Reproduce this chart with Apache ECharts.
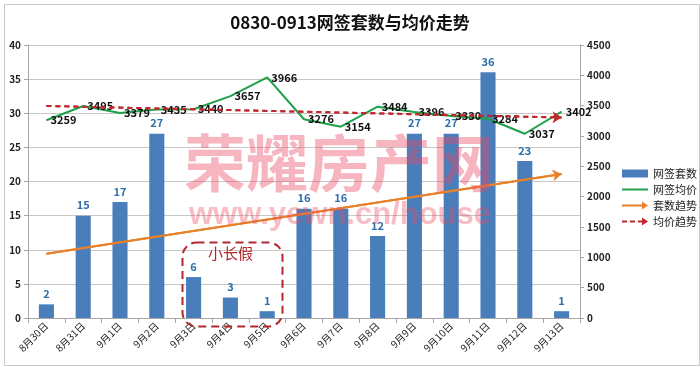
<!DOCTYPE html>
<html><head><meta charset="utf-8">
<script src="https://cdn.jsdelivr.net/npm/echarts@6/dist/echarts.min.js"></script>
<style>html,body{margin:0;padding:0;background:#fff}#c{width:700px;height:367px}</style>
</head><body><div id="c"></div>
<script>
const categories = ['8月30日','8月31日','9月1日','9月2日','9月3日','9月4日','9月5日','9月6日','9月7日','9月8日','9月9日','9月10日','9月11日','9月12日','9月13日'];
const counts = [2,15,17,27,6,3,1,16,16,12,27,27,36,23,1];
const prices = [3259,3495,3379,3435,3440,3657,3966,3276,3154,3484,3396,3330,3284,3037,3402];
const countTrend = [9.4, 21.1];
const priceTrend = [3495, 3305];
const leftTicks = {min:0, max:40, interval:5};
const rightTicks = {min:0, max:4500, interval:500};

const n = categories.length;
const ends = arr => categories.map((c,i)=> i===0 ? arr[0] : (i===n-1 ? arr[1] : null));
const font = '"Noto Sans CJK SC", "Noto Sans", sans-serif';

const chart = echarts.init(document.getElementById('c'));
chart.setOption({
  animation:false,
  textStyle:{fontFamily:font},
  title:{text:'0830-0913网签套数与均价走势', left:'center', top:9,
    textStyle:{fontSize:17, fontWeight:'bold', color:'#111', fontFamily:font}},
  grid:{left:28, right:120, top:45, bottom:49},
  legend:{orient:'vertical', left:617, top:163, itemGap:5, itemWidth:26, itemHeight:8,
    textStyle:{fontSize:11, color:'#222'},
    data:[
      {name:'网签套数', icon:'rect'},
      {name:'网签均价', icon:'path://M0,3H26V5H0Z'},
      {name:'套数趋势', icon:'path://M0,3H20V0L26,4L20,8V5H0Z'},
      {name:'均价趋势', icon:'path://M0,3H5V5H0Z M8,3H13V5H8Z M16,3H20V0L26,4L20,8V5H16Z'}
    ]},
  xAxis:{type:'category', data:categories,
    axisLine:{lineStyle:{color:'#A6A6A6'}},
    axisTick:{show:true, length:5, lineStyle:{color:'#A6A6A6'}},
    axisLabel:{rotate:45, fontSize:10, color:'#222', margin:6, interval:0}},
  yAxis:[
    {type:'value', min:leftTicks.min, max:leftTicks.max, interval:leftTicks.interval,
      axisLine:{show:true, lineStyle:{color:'#A6A6A6'}},
      axisTick:{show:true, length:4, lineStyle:{color:'#A6A6A6'}},
      splitLine:{lineStyle:{color:'#C8C8C8'}},
      axisLabel:{fontSize:10, color:'#222', fontWeight:'bold', margin:7}},
    {type:'value', min:rightTicks.min, max:rightTicks.max, interval:rightTicks.interval,
      position:'right',
      axisLine:{show:true, lineStyle:{color:'#A6A6A6'}},
      axisTick:{show:true, length:4, lineStyle:{color:'#A6A6A6'}},
      splitLine:{show:false},
      axisLabel:{fontSize:10, color:'#222', fontWeight:'bold', margin:7, formatter: v => String(v)}}
  ],
  series:[
    {name:'网签套数', type:'bar', data:counts, barWidth:'41%', yAxisIndex:0,
      itemStyle:{color:'#4A7EBB'},
      label:{show:true, position:'top', fontSize:11, fontWeight:'bold', color:'#2F6EA9', distance:5}},
    {name:'网签均价', type:'line', data:prices, yAxisIndex:1, symbol:'circle', symbolSize:0.1, showSymbol:true,
      lineStyle:{color:'#1FA049', width:2}, itemStyle:{color:'#1FA049'},
      label:{show:true, position:'right', fontSize:11, fontWeight:'bold', color:'#111', distance:4}},
    {name:'套数趋势', type:'line', data:ends(countTrend), yAxisIndex:0, connectNulls:true, symbol:'none',
      lineStyle:{color:'#E8822A', width:2}, itemStyle:{color:'#E8822A'}, z:5,
      markLine:{silent:true, symbol:['none','arrow'], symbolSize:[9,9], label:{show:false},
        lineStyle:{color:'#E8822A', width:2, type:'solid'},
        data:[[{coord:[categories[0], countTrend[0]]},{coord:[categories[n-1], countTrend[1]]}]]}},
    {name:'均价趋势', type:'line', data:ends(priceTrend), yAxisIndex:1, connectNulls:true, symbol:'none',
      lineStyle:{color:'#C0282D', width:2, type:[5,4]}, itemStyle:{color:'#C0282D'}, z:5,
      markLine:{silent:true, symbol:['none','arrow'], symbolSize:[9,9], label:{show:false},
        lineStyle:{color:'#C0282D', width:2, type:[5,4]},
        data:[[{coord:[categories[0], priceTrend[0]]},{coord:[categories[n-1], priceTrend[1]]}]]}}
  ],
  graphic:[
    {type:'rect', left:2, top:2, shape:{width:695, height:361}, style:{fill:'none', stroke:'#C8C8C8', lineWidth:1}, z:-10, silent:true},
    {type:'rect', left:180, top:240, shape:{width:100, height:84, r:14},
      style:{fill:'none', stroke:'#B0282D', lineWidth:2, lineDash:[8,5]}, z:20, silent:true},
    {type:'text', left:208, top:246, style:{text:'小长假', fill:'#B0282D', fontSize:15, fontFamily:font}, z:20, silent:true},
    {type:'text', left:184, top:132, style:{text:'荣耀房产网', fill:'rgba(236,70,95,0.40)', fontSize:62, fontWeight:'bold', fontFamily:font}, z:30, silent:true},
    {type:'text', left:189, top:200, style:{text:'www.yewn.cn/house', fill:'rgba(236,70,95,0.36)', fontSize:31, fontWeight:'bold', fontFamily:'"Liberation Sans", Arial, sans-serif'}, z:30, silent:true}
  ]
});
</script></body></html>
